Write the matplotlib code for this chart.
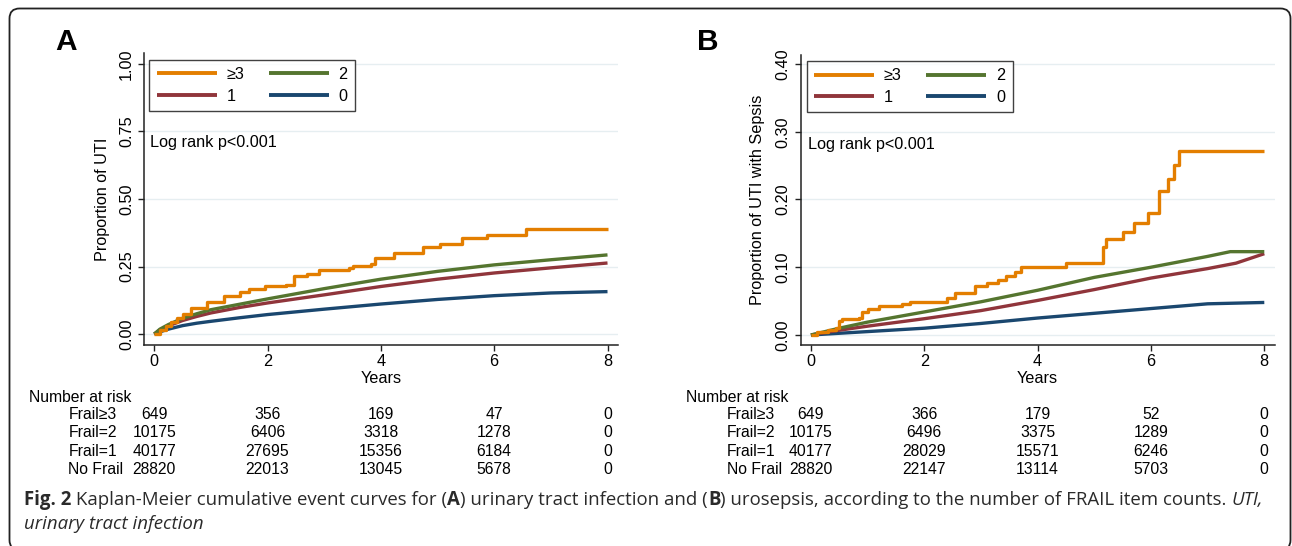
import matplotlib
matplotlib.use('Agg')
import matplotlib.pyplot as plt
import matplotlib.transforms as mtransforms
from matplotlib.patches import FancyBboxPatch

plt.rcParams['font.family'] = ['Liberation Sans', 'DejaVu Sans']

# ---------------- data ----------------
group_labels = ['≥3', '1', '2', '0']
group_colors = {'≥3': '#e37e00', '2': '#55752f', '1': '#90353b', '0': '#1a476f'}
year_ticks = [0, 2, 4, 6, 8]

# Panel A: UTI
a_t_ge3 = [0, 0.1, 0.2, 0.3, 0.4, 0.5, 0.65, 0.94, 1.23, 1.52, 1.67, 1.96, 2.33, 2.47, 2.69,
           2.91, 3.43, 3.5, 3.83, 3.9, 4.19, 4.23, 4.67, 4.74, 5.04, 5.44, 5.88, 6.57, 8.0]
a_v_ge3 = [0, 0.015, 0.03, 0.045, 0.06, 0.075, 0.096, 0.12, 0.139, 0.154, 0.166, 0.179, 0.182,
           0.213, 0.223, 0.238, 0.244, 0.253, 0.259, 0.28, 0.28, 0.30, 0.30, 0.322, 0.333,
           0.355, 0.367, 0.388, 0.388]
a_t_cont = [0, 0.1, 0.25, 0.5, 0.75, 1, 1.5, 2, 3, 4, 5, 6, 7, 8]
a_v_2 = [0, 0.018, 0.035, 0.058, 0.075, 0.09, 0.11, 0.13, 0.168, 0.203, 0.232, 0.256, 0.275, 0.293]
a_v_1 = [0, 0.015, 0.03, 0.05, 0.065, 0.078, 0.098, 0.115, 0.145, 0.176, 0.203, 0.226, 0.245, 0.263]
a_v_0 = [0, 0.008, 0.018, 0.031, 0.04, 0.047, 0.06, 0.072, 0.092, 0.111, 0.128, 0.142, 0.152, 0.157]

# Panel B: urosepsis
b_t_ge3 = [0, 0.1, 0.3, 0.45, 0.5, 0.55, 0.85, 0.9, 1.0, 1.2, 1.6, 1.75, 2.4, 2.55, 2.9, 3.1,
           3.3, 3.45, 3.6, 3.7, 4.5, 5.1, 5.15, 5.2, 5.5, 5.7, 5.95, 6.15, 6.3, 6.4, 6.5, 8.0]
b_v_ge3 = [0, 0.004, 0.007, 0.01, 0.02, 0.023, 0.025, 0.034, 0.039, 0.043, 0.046, 0.049, 0.054,
           0.062, 0.072, 0.076, 0.081, 0.087, 0.093, 0.10, 0.106, 0.106, 0.13, 0.141, 0.152,
           0.165, 0.18, 0.213, 0.23, 0.251, 0.272, 0.272]
b_t_2 = [0, 0.5, 1, 2, 3, 4, 5, 6, 7, 7.4, 8]
b_v_2 = [0, 0.01, 0.019, 0.034, 0.049, 0.066, 0.085, 0.10, 0.116, 0.123, 0.123]
b_t_1 = [0, 0.5, 1, 2, 3, 4, 5, 6, 7, 7.5, 8]
b_v_1 = [0, 0.007, 0.013, 0.024, 0.036, 0.051, 0.067, 0.084, 0.098, 0.106, 0.12]
b_t_0 = [0, 1, 2, 3, 4, 5, 6, 7, 8]
b_v_0 = [0, 0.005, 0.01, 0.017, 0.025, 0.032, 0.039, 0.046, 0.048]

risk_row_labels = ['Frail≥3', 'Frail=2', 'Frail=1', 'No Frail']
risk_a = [[649, 356, 169, 47, 0],
          [10175, 6406, 3318, 1278, 0],
          [40177, 27695, 15356, 6184, 0],
          [28820, 22013, 13045, 5678, 0]]
risk_b = [[649, 366, 179, 52, 0],
          [10175, 6496, 3375, 1289, 0],
          [40177, 28029, 15571, 6246, 0],
          [28820, 22147, 13114, 5703, 0]]

# ---------------- layout ----------------
W, H = 1292, 546
fig = plt.figure(figsize=(W / 100, H / 100), dpi=100)
fig.patch.set_facecolor('white')

def px_axes(l, r, t, b):
    return fig.add_axes([l / W, 1 - b / H, (r - l) / W, (b - t) / H])

axA = px_axes(144.3, 617.7, 53, 345)
axB = px_axes(800.7, 1274.5, 55, 345)

TICK_FS = 11.7
grid_col = '#e6eef1'

def style_axes(ax, xlim, ylim, yticks, ylabel):
    ax.set_xlim(*xlim)
    ax.set_ylim(*ylim)
    for s in ['top', 'right']:
        ax.spines[s].set_visible(False)
    for s in ['left', 'bottom']:
        ax.spines[s].set_linewidth(1.1)
        ax.spines[s].set_color('#222222')
    ax.set_xticks(year_ticks)
    ax.set_yticks(yticks)
    ax.set_yticklabels(['%.2f' % v for v in yticks], rotation=90, va='center')
    ax.tick_params(direction='out', length=4.5, width=1.0, labelsize=TICK_FS, color='#222222')
    ax.tick_params(axis='y', pad=3)
    ax.tick_params(axis='x', pad=2)
    for v in yticks:
        ax.axhline(v, color=grid_col, lw=1.0, zorder=0)
    ax.set_xlabel('Years', fontsize=TICK_FS)
    ax.set_ylabel(ylabel, fontsize=TICK_FS)
    ax.xaxis.set_label_coords(0.5, -0.089)
    ax.patch.set_alpha(0)

style_axes(axA, (-0.175, 8.18), (-0.0407, 1.0407), [0, 0.25, 0.5, 0.75, 1.0], 'Proportion of UTI')
style_axes(axB, (-0.18, 8.18), (-0.0148, 0.4133), [0, 0.1, 0.2, 0.3, 0.4], 'Proportion of UTI with Sepsis')
axA.yaxis.set_label_coords(-0.072, 0.5)
axB.yaxis.set_label_coords(-0.075, 0.5)

LW = 2.4
def draw_curves(ax, t3, v3, t2, v2, t1, v1, t0, v0):
    h = {}
    h['0'], = ax.plot(t0, v0, color=group_colors['0'], lw=LW, solid_capstyle='butt')
    h['1'], = ax.plot(t1, v1, color=group_colors['1'], lw=LW, solid_capstyle='butt')
    h['2'], = ax.plot(t2, v2, color=group_colors['2'], lw=LW, solid_capstyle='butt')
    h['≥3'], = ax.step(t3, v3, where='post', color=group_colors['≥3'], lw=LW, solid_capstyle='butt')
    return h

hA = draw_curves(axA, a_t_ge3, a_v_ge3, a_t_cont, a_v_2, a_t_cont, a_v_1, a_t_cont, a_v_0)
hB = draw_curves(axB, b_t_ge3, b_v_ge3, b_t_2, b_v_2, b_t_1, b_v_1, b_t_0, b_v_0)

def add_legend(ax, h, x0_px, ax_left, ax_w, top_px, ax_top_b):
    order = ['≥3', '1', '2', '0']
    leg = ax.legend([h[k] for k in order], order, ncol=2, loc='upper left',
                    bbox_to_anchor=((x0_px - ax_left) / ax_w, (345 - top_px) / (345 - ax_top_b)),
                    borderaxespad=0, frameon=True, fancybox=False, edgecolor='#111111',
                    fontsize=TICK_FS, handlelength=3.7, handletextpad=0.6, columnspacing=1.5,
                    labelspacing=0.42, borderpad=0.45)
    leg.get_frame().set_linewidth(1.0)
    for l in leg.get_lines():
        l.set_linewidth(LW + 0.4)

add_legend(axA, hA, 149.3, 144.3, 473.4, 59.5, 53)
add_legend(axB, hB, 806.8, 800.7, 473.8, 61, 55)

axA.text((150 - 144.3) / 473.4, (345 - 143) / 292, 'Log rank p<0.001', transform=axA.transAxes,
         fontsize=TICK_FS, va='center', ha='left')
axB.text((807.7 - 800.7) / 473.8, (345 - 144) / 290, 'Log rank p<0.001', transform=axB.transAxes,
         fontsize=TICK_FS, va='center', ha='left')

fig.text(66 / W, 1 - 42 / H, 'A', fontsize=21.5, fontweight='bold', ha='center', va='center')
fig.text(708 / W, 1 - 42 / H, 'B', fontsize=21.5, fontweight='bold', ha='center', va='center')

# number at risk tables
RISK_FS = 11.3
row_y = [414.5, 432.8, 451.1, 469.4]
def risk_table(ax, table, title_x, label_x):
    fig.text(title_x / W, 1 - 398 / H, 'Number at risk', fontsize=RISK_FS, ha='left', va='center')
    tr = mtransforms.blended_transform_factory(ax.transData, fig.transFigure)
    for lab, row, y in zip(risk_row_labels, table, row_y):
        fig.text(label_x / W, 1 - y / H, lab, fontsize=RISK_FS, ha='left', va='center')
        for xt, n in zip(year_ticks, row):
            fig.text(xt, 1 - y / H, str(n), fontsize=RISK_FS, ha='center', va='center', transform=tr)

risk_table(axA, risk_a, 29.3, 68.3)
risk_table(axB, risk_b, 686, 727)

# caption
CAP_FS = 13.4
cap_col = '#2a2a2a'
renderer = fig.canvas.get_renderer()
def rich_line(x_px, y_px, segments):
    x = x_px
    for txt, weight, style in segments:
        t = fig.text(x / W, 1 - y_px / H, txt, fontsize=CAP_FS, fontweight=weight, fontstyle=style,
                     family=['Open Sans', 'DejaVu Sans'], ha='left', va='center', color=cap_col)
        x += t.get_window_extent(renderer).width

rich_line(24, 500, [('Fig. 2', 'bold', 'normal'),
                    (' Kaplan-Meier cumulative event curves for (', 'normal', 'normal'),
                    ('A', 'bold', 'normal'),
                    (') urinary tract infection and (', 'normal', 'normal'),
                    ('B', 'bold', 'normal'),
                    (') urosepsis, according to the number of FRAIL item counts. ', 'normal', 'normal'),
                    ('UTI,', 'normal', 'italic')])
rich_line(24, 524, [('urinary tract infection', 'normal', 'italic')])

# rounded border
border = FancyBboxPatch((9.5, -4), 1281, 546 - 8.5 + 4, boxstyle='round,pad=0,rounding_size=10',
                        transform=mtransforms.IdentityTransform(), fill=False,
                        edgecolor='#222222', lw=1.3)
fig.patches.append(border)

fig.savefig('out.png', dpi=100, facecolor='white')
